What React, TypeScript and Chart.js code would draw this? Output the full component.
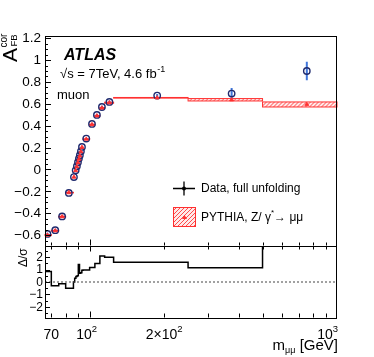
import React, { useEffect, useRef } from "react";
import { Chart, registerables } from "chart.js";

Chart.register(...registerables);

// ---------------- data ----------------
const binEdges = [66, 70, 75, 80, 86, 87, 88, 89, 90, 91, 92, 93, 94, 100, 105, 110, 115, 125, 250, 500, 1000];
const dataMass = [67.5, 72.6, 77.4, 82.4, 86.4, 87.8, 88.8, 89.7, 90.5, 91.3, 92.2, 93.1, 96.9, 102.2, 107.0, 112.1, 120.2, 187.5, 375, 755];
const dataAfb = [-0.59, -0.555, -0.43, -0.215, -0.07, -0.008, 0.029, 0.066, 0.099, 0.13, 0.166, 0.206, 0.282, 0.416, 0.498, 0.571, 0.617, 0.675, 0.694, 0.9];
const dataErr = [0.012, 0.01, 0.008, 0.006, 0.005, 0.004, 0.004, 0.004, 0.004, 0.004, 0.004, 0.004, 0.005, 0.008, 0.01, 0.012, 0.013, 0.015, 0.05, 0.085];
const predAfb = [-0.6, -0.56, -0.432, -0.212, -0.07, -0.01, 0.026, 0.062, 0.094, 0.124, 0.162, 0.202, 0.277, 0.41, 0.49, 0.562, 0.61, 0.655, 0.637, 0.594];
const predErr = [0.005, 0.004, 0.004, 0.003, 0.003, 0.003, 0.003, 0.003, 0.003, 0.003, 0.003, 0.003, 0.003, 0.004, 0.004, 0.005, 0.005, 0.003, 0.011, 0.023];
const pullValues = [0.85, -0.3, -0.15, -0.5, 0.0, 0.3, 0.45, 0.5, 1.4, 0.7, 0.75, 0.95, 0.97, 1.16, 1.5, 2.1, 2.0, 1.6, 1.15, 3.6];

const topYMajor = [-0.6, -0.4, -0.2, 0, 0.2, 0.4, 0.6, 0.8, 1, 1.2];
const topYLabels = ["\u22120.6", "\u22120.4", "\u22120.2", "0", "0.2", "0.4", "0.6", "0.8", "1", "1.2"];
const pullYMajor = [-2, -1, 0, 1, 2];
const pullYLabels = ["\u22122", "\u22121", "0", "1", "2"];
const xMinorTicks = [70, 80, 90, 200, 300, 400, 500, 600, 700, 800, 900];
const xMajorTicks = [100];
const xLabelValues = [70, 100, 200, 1000];
const xLabelBase = ["70", "10", "2\u00d710", "10"];
const xLabelExp = ["", "2", "2", "3"];

const FONT = '"Liberation Sans", Arial, Helvetica, sans-serif';
const RED = "#ff3030";
const NAVY = "#1f2a6e";
const BLUE = "#3f76db";

function font(size: number, style = "") {
  return `${style} ${size}px ${FONT}`.trim();
}

function hatchRect(ctx: CanvasRenderingContext2D, x: number, y: number, w: number, h: number) {
  ctx.save();
  ctx.fillStyle = "rgba(255,80,80,0.12)";
  ctx.fillRect(x, y, w, h);
  ctx.beginPath();
  ctx.rect(x, y, w, h);
  ctx.clip();
  ctx.strokeStyle = "rgba(255,40,40,0.9)";
  ctx.lineWidth = 0.9;
  ctx.beginPath();
  const step = 4;
  for (let s = -h - step; s < w + h + step; s += step) {
    ctx.moveTo(x + s, y + h);
    ctx.lineTo(x + s + h, y);
  }
  ctx.stroke();
  ctx.restore();
}

function drawYTicks(ctx: CanvasRenderingContext2D, chart: any, majors: number[], minorStep: number, majorLen: number, minorLen: number) {
  const { left } = chart.chartArea;
  const ys = chart.scales.y;
  const n0 = Math.ceil(ys.min / minorStep - 1e-6);
  const n1 = Math.floor(ys.max / minorStep + 1e-6);
  ctx.beginPath();
  for (let k = n0; k <= n1; k++) {
    const v = k * minorStep;
    const y = Math.round(ys.getPixelForValue(v)) + 0.5;
    const isMajor = majors.some((m) => Math.abs(m - v) < 1e-6);
    ctx.moveTo(left, y);
    ctx.lineTo(left + (isMajor ? majorLen : minorLen), y);
  }
  ctx.stroke();
}

function drawXTicks(ctx: CanvasRenderingContext2D, chart: any, edgeY: number, dir: number, majorLen: number, minorLen: number) {
  const xs = chart.scales.x;
  ctx.beginPath();
  xMinorTicks.forEach((v) => {
    const x = Math.round(xs.getPixelForValue(v)) + 0.5;
    ctx.moveTo(x, edgeY);
    ctx.lineTo(x, edgeY + dir * minorLen);
  });
  xMajorTicks.forEach((v) => {
    const x = Math.round(xs.getPixelForValue(v)) + 0.5;
    ctx.moveTo(x, edgeY);
    ctx.lineTo(x, edgeY + dir * majorLen);
  });
  ctx.stroke();
}

function drawFrame(ctx: CanvasRenderingContext2D, chart: any) {
  const { left, top, right, bottom } = chart.chartArea;
  ctx.strokeStyle = "#000";
  ctx.lineWidth = 1;
  ctx.strokeRect(left + 0.5, top + 0.5, right - left - 1, bottom - top);
}

const topPlugin = {
  id: "topDecor",
  beforeDatasetsDraw(chart: any) {
    const ctx: CanvasRenderingContext2D = chart.ctx;
    const xs = chart.scales.x;
    const ys = chart.scales.y;
    ctx.save();
    // prediction boxes
    for (let i = 0; i < predAfb.length; i++) {
      const x1 = xs.getPixelForValue(binEdges[i]);
      const x2 = xs.getPixelForValue(binEdges[i + 1]);
      const y1 = ys.getPixelForValue(predAfb[i] + predErr[i]);
      const y2 = ys.getPixelForValue(predAfb[i] - predErr[i]);
      hatchRect(ctx, x1, y1, x2 - x1, y2 - y1);
      ctx.strokeStyle = RED;
      ctx.lineWidth = 1;
      ctx.strokeRect(x1, y1, x2 - x1, Math.max(y2 - y1, 0.5));
    }
    // data error bars
    ctx.strokeStyle = BLUE;
    ctx.lineWidth = 2;
    ctx.beginPath();
    for (let i = 0; i < dataAfb.length; i++) {
      const x = xs.getPixelForValue(dataMass[i]);
      ctx.moveTo(x, ys.getPixelForValue(dataAfb[i] + dataErr[i]));
      ctx.lineTo(x, ys.getPixelForValue(dataAfb[i] - dataErr[i]));
    }
    ctx.stroke();
    ctx.restore();
  },
  afterDraw(chart: any) {
    const ctx: CanvasRenderingContext2D = chart.ctx;
    const ys = chart.scales.y;
    const { bottom } = chart.chartArea;
    ctx.save();
    drawFrame(ctx, chart);
    ctx.strokeStyle = "#000";
    ctx.lineWidth = 1;
    drawYTicks(ctx, chart, topYMajor, 0.05, 6, 3);
    drawXTicks(ctx, chart, bottom - 0.5, -1, 6, 3);

    // y tick labels
    ctx.fillStyle = "#000";
    ctx.font = font(13.5);
    ctx.textAlign = "right";
    ctx.textBaseline = "middle";
    topYMajor.forEach((v, i) => {
      ctx.fillText(topYLabels[i], 41, ys.getPixelForValue(v) + 0.5);
    });

    // y title
    ctx.save();
    ctx.translate(17, 62);
    ctx.rotate(-Math.PI / 2);
    ctx.textAlign = "left";
    ctx.textBaseline = "alphabetic";
    ctx.font = font(21);
    ctx.fillText("A", 0, 0);
    const aw = ctx.measureText("A").width;
    ctx.font = font(10);
    ctx.fillText("cor", aw + 0.5, -10);
    ctx.font = font(9.5);
    ctx.fillText("FB", aw + 1.5, 0);
    ctx.restore();

    // ATLAS label
    ctx.textAlign = "left";
    ctx.textBaseline = "alphabetic";
    ctx.font = font(16, "italic bold");
    ctx.fillText("ATLAS", 64, 60);
    ctx.font = font(13);
    const pre = "\u221a";
    ctx.fillText(pre, 60, 78);
    const pw = ctx.measureText(pre).width;
    const sTxt = "s = 7TeV, 4.6 fb";
    ctx.fillText(sTxt, 60 + pw, 78);
    const tw = ctx.measureText(sTxt).width;
    ctx.font = font(9);
    ctx.fillText("-1", 60 + pw + tw + 0.5, 72);
    ctx.font = font(13);
    ctx.fillText("muon", 57, 99);

    // legend
    ctx.strokeStyle = "#000";
    ctx.lineWidth = 1.3;
    ctx.beginPath();
    ctx.moveTo(173, 188.5);
    ctx.lineTo(195, 188.5);
    ctx.moveTo(184, 181.5);
    ctx.lineTo(184, 195.5);
    ctx.stroke();
    ctx.beginPath();
    ctx.arc(184, 188.5, 2, 0, Math.PI * 2);
    ctx.fillStyle = "#000";
    ctx.fill();

    hatchRect(ctx, 173, 207, 23, 20);
    ctx.strokeStyle = RED;
    ctx.lineWidth = 1;
    ctx.strokeRect(173.5, 207.5, 22, 19);
    ctx.fillStyle = RED;
    ctx.beginPath();
    ctx.moveTo(184.5, 215);
    ctx.lineTo(187, 219);
    ctx.lineTo(182, 219);
    ctx.closePath();
    ctx.fill();

    ctx.fillStyle = "#000";
    ctx.font = font(12);
    ctx.fillText("Data, full unfolding", 201, 192);
    let x = 201;
    const t1 = "PYTHIA, Z/ \u03b3";
    ctx.fillText(t1, x, 221);
    x += ctx.measureText(t1).width;
    ctx.font = font(8);
    ctx.fillText("*", x, 215);
    x += ctx.measureText("*").width;
    ctx.font = font(12);
    ctx.fillText("\u2192 \u03bc\u03bc", x, 221);
    ctx.restore();
  },
};

const bottomPlugin = {
  id: "bottomDecor",
  afterDraw(chart: any) {
    const ctx: CanvasRenderingContext2D = chart.ctx;
    const xs = chart.scales.x;
    const ys = chart.scales.y;
    const { top, bottom, right } = chart.chartArea;
    ctx.save();
    drawFrame(ctx, chart);
    ctx.strokeStyle = "#000";
    ctx.lineWidth = 1;
    drawYTicks(ctx, chart, pullYMajor, 0.5, 5, 3);
    drawXTicks(ctx, chart, top + 0.5, 1, 5, 3);
    drawXTicks(ctx, chart, bottom - 0.5, -1, 6, 4);

    ctx.fillStyle = "#000";
    ctx.font = font(12);
    ctx.textAlign = "right";
    ctx.textBaseline = "middle";
    pullYMajor.forEach((v, i) => {
      ctx.fillText(pullYLabels[i], 43, ys.getPixelForValue(v) + 0.5);
    });

    // y title
    ctx.save();
    ctx.translate(27, 267);
    ctx.rotate(-Math.PI / 2);
    ctx.textAlign = "left";
    ctx.textBaseline = "alphabetic";
    ctx.font = font(12);
    ctx.fillText("\u0394/\u03c3", 0, 0);
    ctx.restore();

    // x tick labels
    ctx.textAlign = "left";
    ctx.textBaseline = "alphabetic";
    xLabelValues.forEach((v, i) => {
      ctx.font = font(14);
      const bw = ctx.measureText(xLabelBase[i]).width;
      ctx.font = font(9.5);
      const ew = xLabelExp[i] ? ctx.measureText(xLabelExp[i]).width : 0;
      const total = bw + ew;
      const px = xs.getPixelForValue(v);
      let x0 = px - total / 2;
      if (i === xLabelValues.length - 1) x0 = right + 1 - total;
      if (i === 1) x0 -= 3;
      ctx.font = font(14);
      ctx.fillText(xLabelBase[i], x0, 339);
      if (xLabelExp[i]) {
        ctx.font = font(9.5);
        ctx.fillText(xLabelExp[i], x0 + bw, 332);
      }
    });

    // x title
    ctx.textAlign = "left";
    ctx.font = font(15);
    const g = " [GeV]";
    const gw = ctx.measureText(g).width;
    ctx.font = font(9);
    const mu = "\u03bc\u03bc";
    const muw = ctx.measureText(mu).width;
    ctx.font = font(15);
    const mw = ctx.measureText("m").width;
    const xEnd = 338;
    const xStart = xEnd - gw - muw - mw;
    ctx.fillText("m", xStart, 350);
    ctx.font = font(9);
    ctx.fillText(mu, xStart + mw, 353);
    ctx.font = font(15);
    ctx.fillText(g, xStart + mw + muw, 350);
    ctx.restore();
  },
};

export default function App() {
  const topRef = useRef<HTMLCanvasElement>(null);
  const botRef = useRef<HTMLCanvasElement>(null);

  useEffect(() => {
    const top = new Chart(topRef.current!, {
      type: "scatter",
      data: {
        datasets: [
          {
            data: dataMass.map((m, i) => ({ x: m, y: predAfb[i] })),
            pointStyle: "triangle",
            pointRadius: 2.3,
            backgroundColor: RED,
            borderColor: RED,
            borderWidth: 0.8,
          },
          {
            data: dataMass.map((m, i) => ({ x: m, y: dataAfb[i] })),
            pointStyle: "circle",
            pointRadius: 3.2,
            backgroundColor: "rgba(255,255,255,0)",
            borderColor: NAVY,
            borderWidth: 1.4,
          },
        ],
      },
      options: {
        animation: false,
        responsive: false,
        events: [],
        layout: { padding: { left: 45, top: 36, right: 37, bottom: 111 } },
        plugins: { legend: { display: false }, tooltip: { enabled: false } },
        scales: {
          x: { type: "logarithmic", min: 66, max: 1000, display: false },
          y: { type: "linear", min: -0.7, max: 1.22, display: false },
        },
      },
      plugins: [topPlugin],
    } as any);

    const stepPoints: { x: number; y: number }[] = [];
    pullValues.forEach((v, i) => {
      stepPoints.push({ x: binEdges[i], y: v });
      stepPoints.push({ x: binEdges[i + 1], y: v });
    });

    const bot = new Chart(botRef.current!, {
      type: "line",
      data: {
        datasets: [
          {
            data: [
              { x: binEdges[0], y: 0 },
              { x: binEdges[binEdges.length - 1], y: 0 },
            ],
            borderColor: "#444",
            borderWidth: 1,
            borderDash: [2, 2],
            pointRadius: 0,
          },
          {
            data: stepPoints,
            borderColor: "#000",
            borderWidth: 1.5,
            pointRadius: 0,
            tension: 0,
          },
        ],
      },
      options: {
        animation: false,
        responsive: false,
        events: [],
        layout: { padding: { left: 45, top: 246, right: 37, bottom: 39 } },
        plugins: { legend: { display: false }, tooltip: { enabled: false } },
        scales: {
          x: { type: "logarithmic", min: 66, max: 1000, display: false },
          y: { type: "linear", min: -2.9, max: 2.9, display: false },
        },
      },
      plugins: [bottomPlugin],
    } as any);

    return () => {
      top.destroy();
      bot.destroy();
    };
  }, []);

  return (
    <div style={{ position: "fixed", left: 0, top: 0, width: 374, height: 357, background: "#fff" }}>
      <canvas ref={topRef} width={374} height={357} style={{ position: "absolute", left: 0, top: 0 }} />
      <canvas ref={botRef} width={374} height={357} style={{ position: "absolute", left: 0, top: 0 }} />
    </div>
  );
}
